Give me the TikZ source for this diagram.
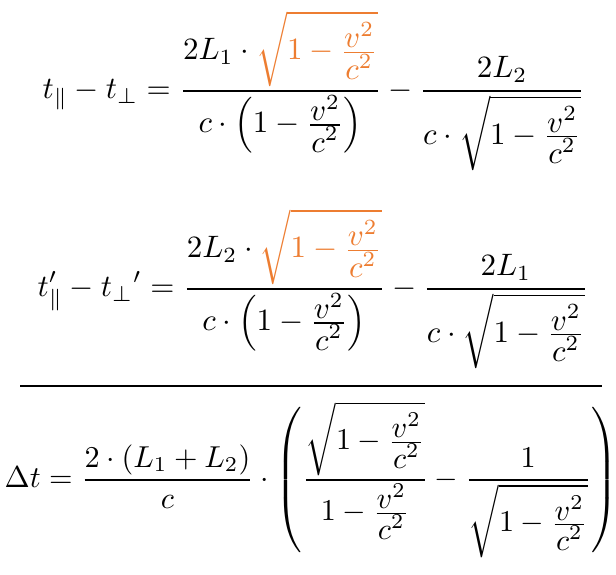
\documentclass[tikz,border=0pt]{standalone}
\usepackage{amsmath}
\definecolor{orng}{HTML}{ED7D31}
\newcommand{\vc}{\frac{\textstyle v^2}{\textstyle c^2}}
\begin{document}
\begin{tikzpicture}[x=1pt,y=-1pt,
  eq/.style={inner sep=0pt, scale=3.1, transform shape},
  rulel/.style={line width=2.7pt}]
\useasboundingbox (0,0) rectangle (616,574);
\node[eq, anchor=west] (e1) at (42,91)
 {$\displaystyle t_{\parallel}-t_{\perp}=\frac{\textstyle 2L_1\cdot{\color{orng}\sqrt{1-\vc}}}{\textstyle c\cdot\left(1-\vc\right)}-\frac{\textstyle 2L_2}{\textstyle c\cdot\sqrt{1-\vc}}$};
\node[eq, anchor=west] (e2) at (37,289)
 {$\displaystyle t'_{\parallel}-{t_{\perp}}'=\frac{\textstyle 2L_2\cdot{\color{orng}\sqrt{1-\vc}}}{\textstyle c\cdot\left(1-\vc\right)}-\frac{\textstyle 2L_1}{\textstyle c\cdot\sqrt{1-\vc}}$};
\coordinate (l1) at (20,386);
\coordinate (l2) at (602,386);
\draw[rulel] (l1) -- (l2);
\node[eq, scale=0.975, anchor=west] (e3) at (4,480)
 {$\displaystyle \Delta t=\frac{2\cdot(L_1+L_2)}{c}\cdot\left(\frac{\textstyle\sqrt{1-\vc}}{\textstyle 1-\vc}-\frac{\textstyle 1}{\textstyle\sqrt{1-\vc}}\right)$};
\end{tikzpicture}
\end{document}
